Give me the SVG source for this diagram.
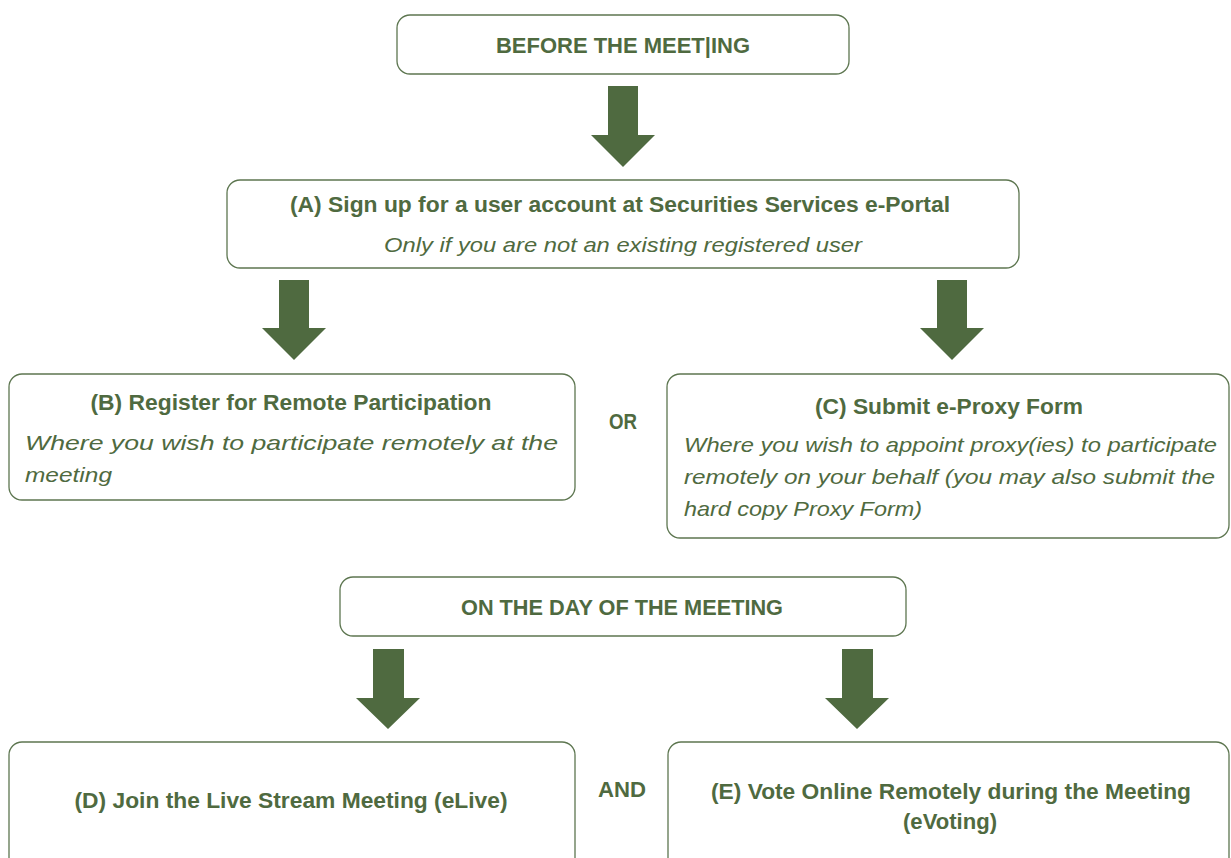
<svg xmlns="http://www.w3.org/2000/svg" width="1231" height="858" viewBox="0 0 1231 858">
<style>
.box{fill:#fff;stroke:#5d7650;stroke-width:1.3}
.t{font-family:"Liberation Sans","DejaVu Sans",sans-serif;fill:#4f6a40}
.b{font-weight:bold;text-anchor:middle;font-size:22px}
.i{font-style:italic;font-size:21px}
.ar{fill:#4f6a40}
</style>
<rect width="1231" height="858" fill="#fff"/>
<g id="connectors">
<polygon class="ar" points="608,86 638,86 638,135 655,135 623,167 591,135 608,135"/>
<polygon class="ar" points="279,280 309,280 309,328 326,328 294,360 262,328 279,328"/>
<polygon class="ar" points="937,280 967,280 967,328 984,328 952,360 920,328 937,328"/>
<polygon class="ar" points="373,649 404,649 404,698 420,698 388,729 356,698 373,698"/>
<polygon class="ar" points="842,649 873,649 873,698 889,698 857,729 825,698 842,698"/>
</g>
<g id="before">
<rect class="box" x="397" y="15" width="452" height="59" rx="13"/>
<text class="t b" x="623" y="53" textLength="254" lengthAdjust="spacingAndGlyphs">BEFORE THE MEET|ING</text>
</g>
<g id="nodeA">
<rect class="box" x="227" y="180" width="792" height="88" rx="13"/>
<text class="t b" x="620" y="212" textLength="660" lengthAdjust="spacingAndGlyphs">(A) Sign up for a user account at Securities Services e-Portal</text>
<text class="t i" x="384" y="252" textLength="478" lengthAdjust="spacingAndGlyphs">Only if you are not an existing registered user</text>
</g>
<g id="nodeB">
<rect class="box" x="9" y="374" width="566" height="126" rx="13"/>
<text class="t b" x="291" y="410" textLength="401" lengthAdjust="spacingAndGlyphs">(B) Register for Remote Participation</text>
<text class="t i" x="25" y="450" textLength="533" lengthAdjust="spacingAndGlyphs">Where you wish to participate remotely at the</text>
<text class="t i" x="25" y="482" textLength="87" lengthAdjust="spacingAndGlyphs">meeting</text>
</g>
<g id="or">
<text class="t b" x="623" y="429" textLength="28" lengthAdjust="spacingAndGlyphs">OR</text>
</g>
<g id="nodeC">
<rect class="box" x="667" y="374" width="562" height="164" rx="13"/>
<text class="t b" x="949" y="414" textLength="268" lengthAdjust="spacingAndGlyphs">(C) Submit e-Proxy Form</text>
<text class="t i" x="684" y="452" textLength="533" lengthAdjust="spacingAndGlyphs">Where you wish to appoint proxy(ies) to participate</text>
<text class="t i" x="684" y="484" textLength="531" lengthAdjust="spacingAndGlyphs">remotely on your behalf (you may also submit the</text>
<text class="t i" x="684" y="516" textLength="238" lengthAdjust="spacingAndGlyphs">hard copy Proxy Form)</text>
</g>
<g id="onday">
<rect class="box" x="340" y="577" width="566" height="59" rx="13"/>
<text class="t b" x="622" y="615" textLength="322" lengthAdjust="spacingAndGlyphs">ON THE DAY OF THE MEETING</text>
</g>
<g id="nodeD">
<rect class="box" x="9" y="742" width="566" height="140" rx="13"/>
<text class="t b" x="291" y="808" textLength="433" lengthAdjust="spacingAndGlyphs">(D) Join the Live Stream Meeting (eLive)</text>
</g>
<g id="and">
<text class="t b" x="622" y="797" textLength="48" lengthAdjust="spacingAndGlyphs">AND</text>
</g>
<g id="nodeE">
<rect class="box" x="668" y="742" width="561" height="140" rx="13"/>
<text class="t b" x="951" y="799" textLength="480" lengthAdjust="spacingAndGlyphs">(E) Vote Online Remotely during the Meeting</text>
<text class="t b" x="950" y="829" textLength="94" lengthAdjust="spacingAndGlyphs">(eVoting)</text>
</g>
</svg>
